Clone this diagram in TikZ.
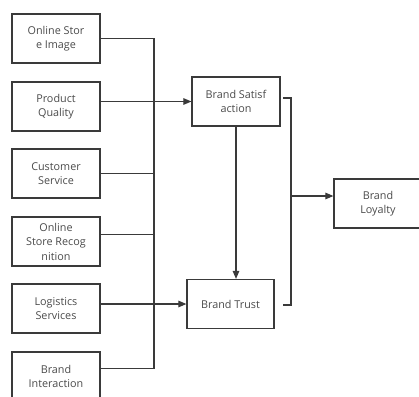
\documentclass[tikz,border=0pt]{standalone}
\usepackage{fontspec}
\setmainfont{Open Sans}
\usetikzlibrary{arrows.meta}
\definecolor{linecol}{HTML}{3A3A3A}
\definecolor{textcol}{HTML}{4A4A4A}
\begin{document}
\begin{tikzpicture}[x=1pt,y=-1pt,
  box/.style={draw=linecol, line width=1.2pt, minimum width=88pt, minimum height=49pt,
    inner sep=0pt, align=center, text=textcol, font=\fontsize{10.8}{14.5}\selectfont},
  link/.style={draw=linecol, line width=1.1pt},
  arr/.style={link, -{Triangle[length=8pt,width=6.5pt]}}]
\useasboundingbox (0,0) rectangle (419,396);
\clip (0,0) rectangle (419,396);

% factor boxes on the left
\node[box] (os) at (56,38.5)  {Online Stor\\e Image};
\node[box] (pq) at (56,106.5) {Product\\Quality};
\node[box] (cs) at (56,173.5) {Customer\\Service};
\node[box] (sr) at (56,241.5) {Online\\Store Recog\\nition};
\node[box] (ls) at (56,308.5) {Logistics\\Services};
\node[box] (bi) at (56,376.5) {Brand\\Interaction};

% mediators and outcome
\node[box] (bs) at (236,101.5) {Brand Satisf\\action};
\node[box, minimum width=87pt] (bt) at (230.5,304) {Brand Trust};
\node[box] (bl) at (378,203.5) {Brand\\Loyalty};

% collecting bus
\coordinate (busx) at (154,0);
\draw[link] (os.east) -| ([yshift=8pt]bi.east -| busx) -- ([yshift=8pt]bi.east);
\draw[link] (cs.east) -- (cs.east -| busx);
\draw[link] ([yshift=7pt]sr.east) -- ([yshift=7pt]sr.east -| busx);

% arrows into the mediators
\draw[arr] (pq.east |- bs.west) -- (bs.west);
\draw[arr] (ls.east |- bt.west) -- (bt.west);
\draw[arr] (bs.south) -- (bs.south |- bt.north);

% bracket into loyalty
\coordinate (jt) at (283,98);
\coordinate (jb) at (283,305);
\coordinate (jm) at (291,196);
\draw[link] (jt) -- (291,98) -- (291,305) -- (jb);
\draw[arr] (jm) -- (jm -| bl.west);
\end{tikzpicture}
\end{document}
